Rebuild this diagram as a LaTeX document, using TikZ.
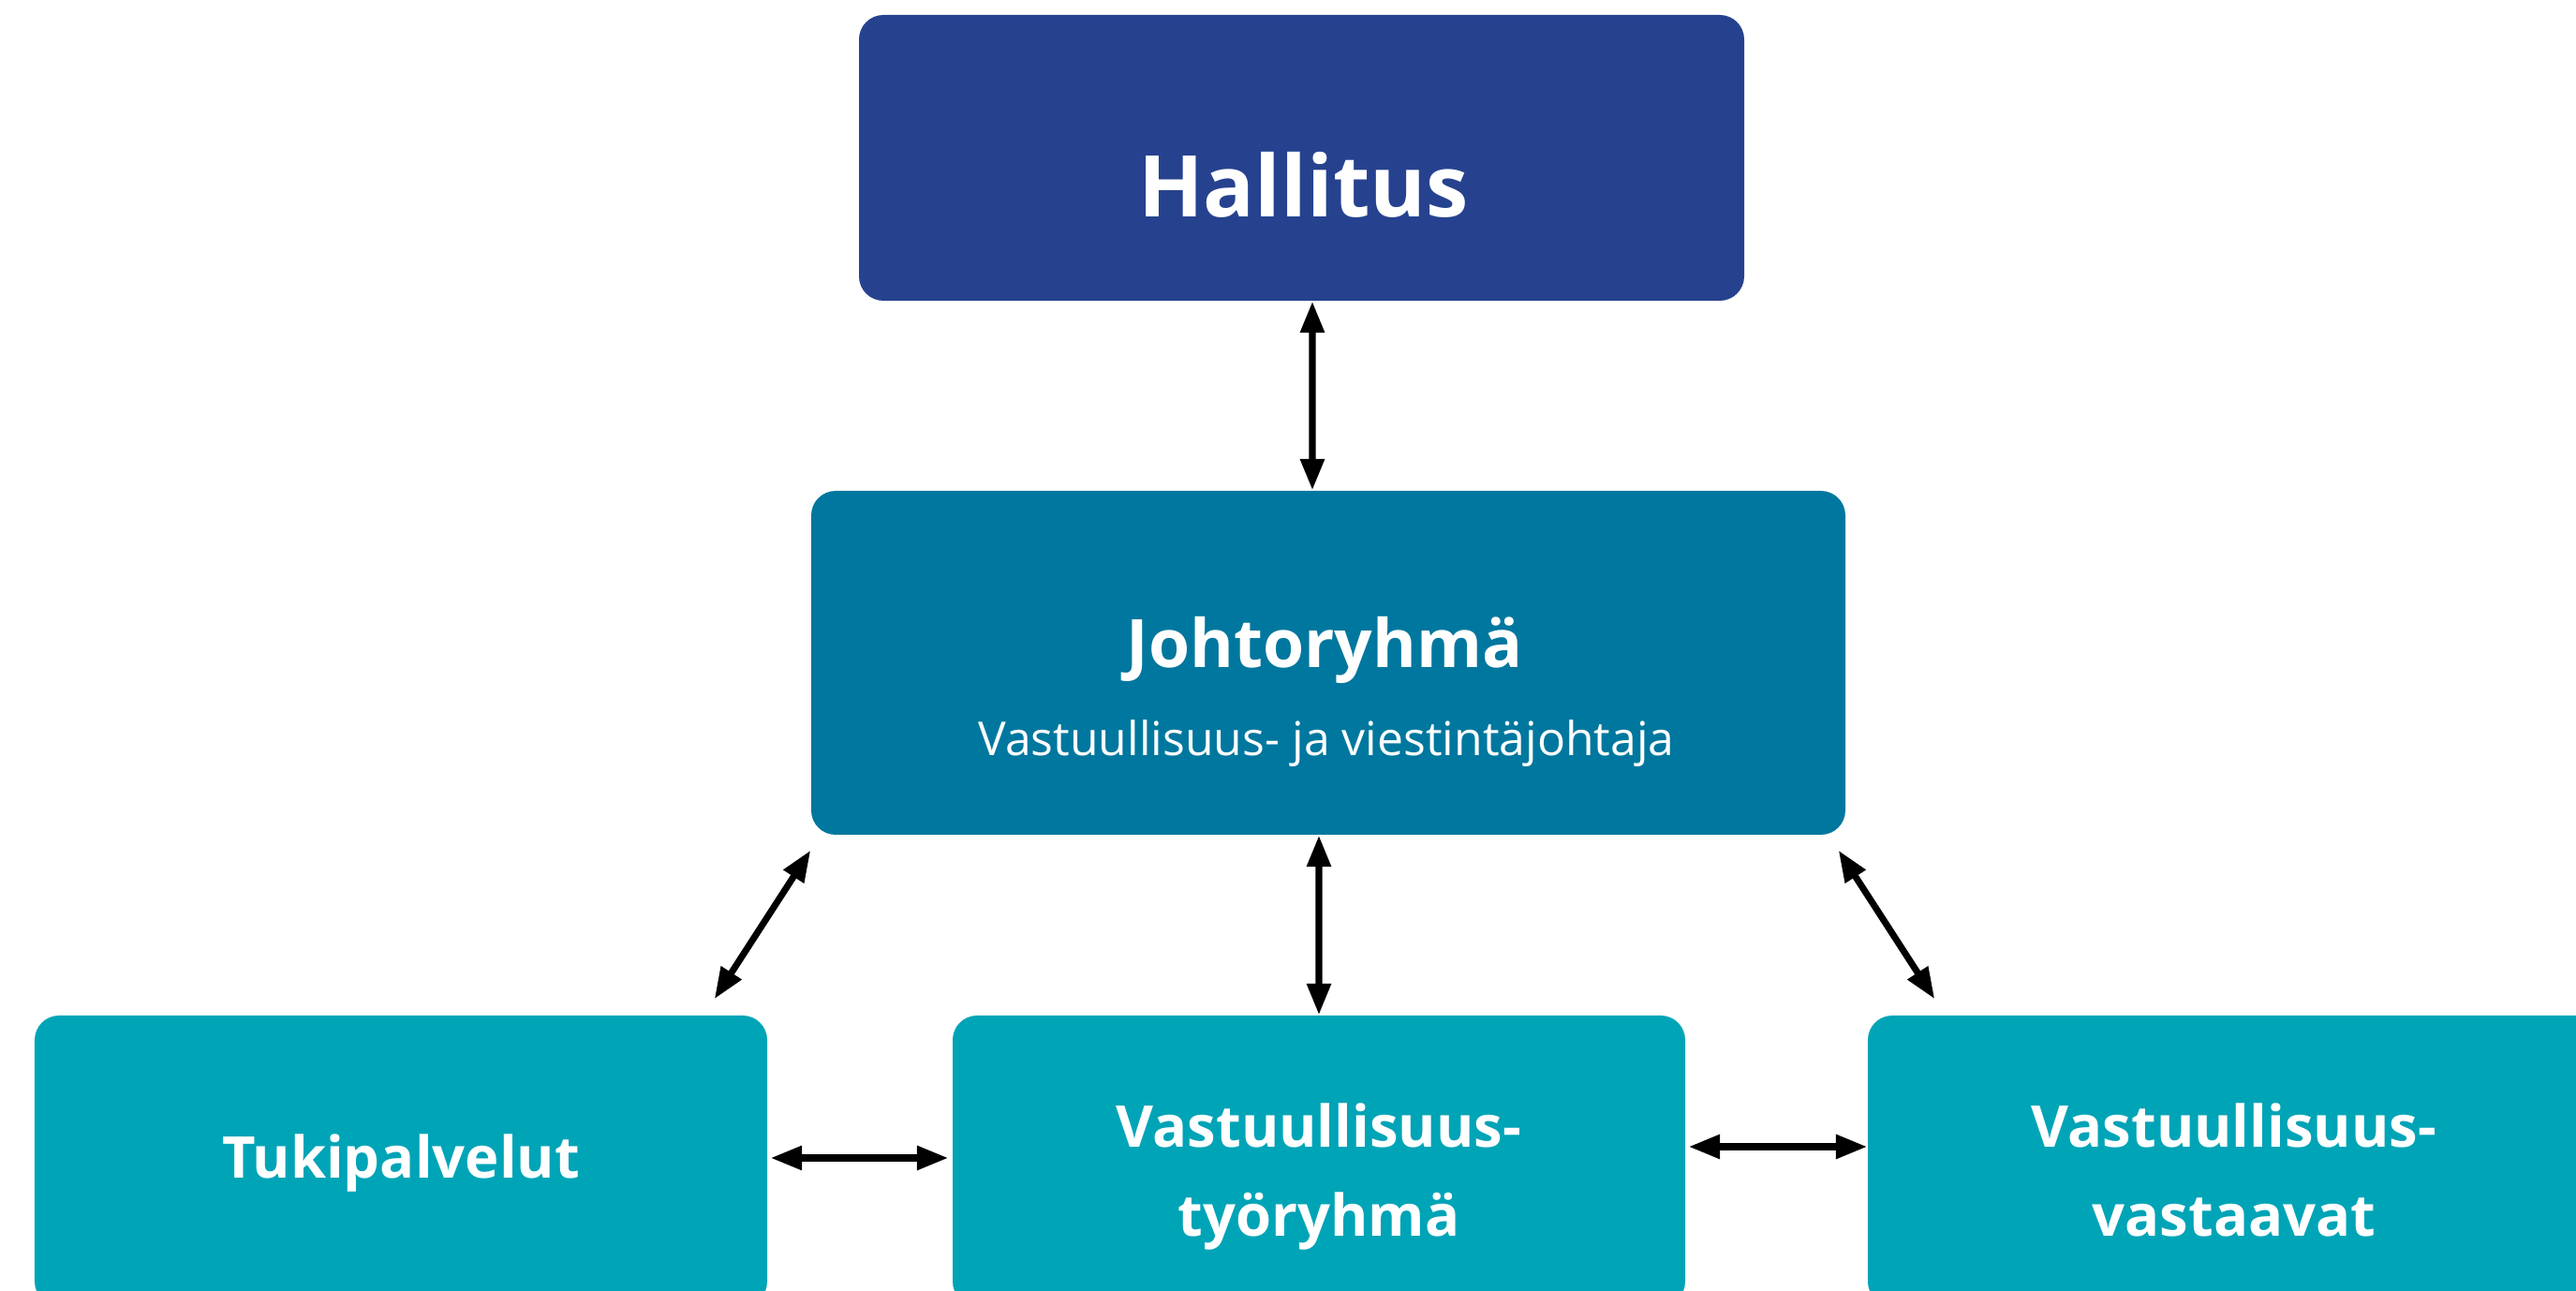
\documentclass[tikz,border=0pt]{standalone}
\usepackage{fontspec}
\setmainfont{Open Sans}
\usepackage{xcolor}
\usetikzlibrary{arrows.meta}
\definecolor{hallitusblue}{RGB}{38,66,143}
\definecolor{johtoblue}{RGB}{0,119,158}
\definecolor{ryhmablue}{RGB}{0,164,183}

\begin{document}
\begin{tikzpicture}[
    box/.style={rectangle, rounded corners=0.26cm, inner sep=0pt},
    lowbox/.style={box, fill=ryhmablue, minimum width=7.82cm, minimum height=3.1cm},
    title/.style={text=white, font=\bfseries\fontsize{17.5}{27.3}\selectfont, align=center, anchor=base, inner sep=0pt},
    link/.style={<->, >={Triangle[length=9.5pt,width=7pt]}, line width=2pt, black}
]
                % Frame
                \useasboundingbox (0,0) rectangle (27.5,-13.78);
                \clip (0,0) rectangle (27.5,-13.78);

                % Hallitus
                \node[box, fill=hallitusblue, minimum width=9.45cm, minimum height=3.05cm] (hallitus) at (13.895,-1.685) {};
                \node[title, font=\bfseries\fontsize{25.9}{30}\selectfont] (hallitusT) at (13.915,-2.32) {Hallitus};

                % Johtoryhma
                \node[box, fill=johtoblue, minimum width=11.04cm, minimum height=3.67cm] (johto) at (14.18,-7.075) {};
                \node[title, font=\bfseries\fontsize{20.3}{24}\selectfont] (johtoT) at (14.14,-7.13) {Johtoryhmä};
                \node[title, font=\fontsize{14.2}{17}\selectfont] (johtoS) at (14.16,-8.07) {Vastuullisuus- ja viestintäjohtaja};

                % Lower boxes
                \node[lowbox] (tuki) at (4.28,-12.39) {};
                \node[title] (tukiT) at (4.28,-12.58) {Tukipalvelut};
                \node[lowbox] (tyoryhma) at (14.08,-12.39) {};
                \node[title] (tyoryhmaT) at (14.08,-13.20) {Vastuullisuus-\\työryhmä};
                \node[lowbox] (vastaavat) at (23.85,-12.39) {};
                \node[title] (vastaavatT) at (23.85,-13.20) {Vastuullisuus-\\vastaavat};

                % Links
                \draw[link] ([xshift=0.115cm]hallitus.south) -- ([xshift=-0.17cm]johto.north);
                \draw[link] ([xshift=-0.10cm]johto.south) -- (tyoryhma.north);
                \draw[link] ([yshift=-0.16cm]johto.south west) -- ([xshift=-0.57cm,yshift=0.17cm]tuki.north east);
                \draw[link] ([xshift=-0.08cm,yshift=-0.16cm]johto.south east) -- ([xshift=0.72cm,yshift=0.17cm]vastaavat.north west);
                \draw[link] ([xshift=0.03cm,yshift=0.03cm]tuki.east) -- ([xshift=-0.04cm,yshift=0.03cm]tyoryhma.west);
                \draw[link] ([xshift=0.03cm,yshift=0.15cm]tyoryhma.east) -- ([yshift=0.15cm]vastaavat.west);
\end{tikzpicture}
\end{document}
